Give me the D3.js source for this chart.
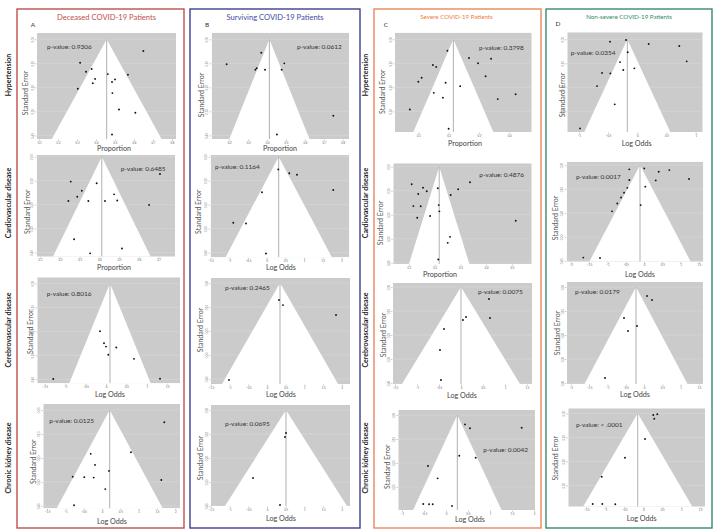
<!DOCTYPE html>
<html><head><meta charset="utf-8">
<script src="https://cdn.jsdelivr.net/npm/d3@7"></script>
<style>body{margin:0;background:#fff}text{font-family:Lato,"Open Sans",sans-serif}</style>
</head><body>
<svg id="c" width="718" height="532"></svg>
<script>
// ---- data ----
const groups = ["Deceased COVID-19 Patients","Surviving COVID-19 Patients","Severe COVID-19 Patients","Non-severe COVID-19 Patients"];
const groupLetters = ["A","B","C","D"];
const diseases = ["Hypertension","Cardiovascular disease","Cerebrovascular disease","Chronic kidney disease"];
const xLabels = ["Proportion","Proportion","Log Odds","Log Odds",
                 "Proportion","Log Odds","Log Odds","Log Odds",
                 "Proportion","Proportion","Log Odds","Log Odds",
                 "Log Odds","Log Odds","Log Odds","Log Odds"];
const pValues = ["0.9306","0.6485","0.8016","0.0125",
                 "0.0612","0.1164","0.2465","0.0695",
                 "0.3798","0.4876","0.0075","0.0042",
                 "0.0354","0.0017","0.0179","< .0001"];
const pooled = [0.456,0.412,0.098,0.210, 0.412,0.321,0.348,0.508, 0.2155,0.2175,0,0.257, -0.171,-0.109,-0.219,-0.147];
const funnelHalf = [0.289,0.247,0.998,1.448, 0.212,1.422,1.551,1.631, 0.132,0.1175,1.34,1.005, 0.736,1.385,1.407,1.439];
const xDomains = [[0.089,0.821],[0.083,0.782],[-1.684,1.814],[-1.604,2.131],
                  [0.107,0.833],[-1.497,2.209],[-1.497,2.219],[-1.497,2.219],
                  [0.023,0.474],[0.039,0.577],[-1.545,1.614],[-1.084,2.023],
                  [-1.199,1.120],[-2.112,1.620],[-2.104,1.612],[-1.974,1.624]];
const yDomains = [[-0.026,0.415],[-0.007,0.417],[-0.025,0.417],[-0.025,0.41],
                  [-0.0275,0.415],[-0.007,0.419],[-0.021,0.421],[-0.021,0.4],
                  [-0.0275,0.386],[-0.014,0.405],[-0.017,0.404],[-0.021,0.396],
                  [-0.029,0.386],[-0.014,0.403],[-0.021,0.404],[-0.021,0.389]];
const tP8 = [0.1,0.2,0.3,0.4,0.5,0.6,0.7,0.8];
const xTicks = [tP8,[0.1,0.2,0.3,0.4,0.5,0.6,0.7],[-1.5,-1,-0.5,0,0.5,1,1.5],[-1.5,-1,-0.5,0,0.5,1,1.5,2],
  [0.2,0.3,0.4,0.5,0.6,0.7,0.8],[-1.5,-1,-0.5,0,0.5,1,1.5,2],[-1.5,-1,-0.5,0,0.5,1,1.5,2],[-1.5,-1,-0.5,0,0.5,1,1.5,2],
  [0.1,0.2,0.3,0.4],[0.1,0.2,0.3,0.4,0.5],[-1.5,-1,-0.5,0,0.5,1,1.5],[-1,-0.5,0,0.5,1,1.5,2],
  [-1,-0.5,0,0.5,1],[-2,-1.5,-1,-0.5,0,0.5,1,1.5],[-2,-1.5,-1,-0.5,0,0.5,1,1.5],[-1.5,-1,-0.5,0,0.5,1,1.5]];
const yTickValues = [0,0.1,0.2,0.3,0.4];

// points: [estimate, standard error]
const ptsA1 = [[0.649,0.049],[0.316,0.098],[0.377,0.124],[0.347,0.135],[0.462,0.145],[0.568,0.148],[0.395,0.165],[0.5,0.167],[0.383,0.183],[0.484,0.178],[0.304,0.206],[0.486,0.224],[0.521,0.292],[0.607,0.306],[0.484,0.396]];
const ptsA2 = [[0.706,0.072],[0.255,0.104],[0.386,0.111],[0.311,0.142],[0.288,0.167],[0.474,0.157],[0.243,0.185],[0.344,0.185],[0.428,0.185],[0.490,0.183],[0.651,0.201],[0.272,0.344],[0.514,0.383],[0.353,0.403]];
const ptsA3 = [[-1.292,0.399],[1.324,0.398],[-0.147,0.2],[-0.049,0.25],[0,0.264],[0.252,0.268],[0.056,0.298],[0.686,0.315]];
const ptsA4 = [[1.702,0.051],[0.792,0.176],[-0.309,0.183],[-0.191,0.229],[0.191,0.254],[-0.801,0.278],[-0.484,0.280],[-0.227,0.282],[1.620,0.292],[0.090,0.330],[-0.765,0.397]];
const ptsB1 = [[0.186,0.104],[0.369,0.056],[0.345,0.120],[0.338,0.127],[0.389,0.127],[0.491,0.1],[0.477,0.127],[0.750,0.318],[0.452,0.396]];
const ptsB2 = [[0.310,0.053],[0.604,0.069],[0.810,0.075],[1.781,0.139],[-0.126,0.148],[-0.893,0.275],[-0.553,0.278],[-0.019,0.403]];
const ptsB3 = [[0.321,0.071],[0.428,0.092],[1.845,0.133],[-1.016,0.404]];
const ptsB4 = [[0.508,0.096],[0.481,0.1125],[-0.374,0.283],[0.348,0.396]];
const ptsC1 = [[0.196,0.0475],[0.267,0.078],[0.148,0.107],[0.159,0.115],[0.297,0.1],[0.340,0.081],[0.111,0.16],[0.1,0.177],[0.322,0.154],[0.190,0.181],[0.238,0.195],[0.151,0.223],[0.181,0.243],[0.421,0.229],[0.362,0.249],[0.072,0.292],[0.200,0.3725]];
const ptsC2 = [[0.1105,0.073],[0.337,0.065],[0.1545,0.0875],[0.212,0.09],[0.291,0.094],[0.169,0.1025],[0.136,0.114],[0.262,0.118],[0.117,0.164],[0.1455,0.165],[0.2155,0.16],[0.218,0.186],[0.182,0.205],[0.132,0.2125],[0.515,0.225],[0.2595,0.292],[0.2505,0.317],[0.214,0.386]];
const ptsC3 = [[0.636,0.05],[0.114,0.125],[0.045,0.1375],[0.659,0.129],[-0.386,0.175],[-0.477,0.2625],[-0.455,0.3875]];
const ptsC4 = [[0.432,0.039],[0.545,0.055],[1.720,0.053],[0.302,0.170],[0.675,0.178],[-0.409,0.2125],[-0.189,0.264],[-0.516,0.371],[-0.386,0.372],[-0.302,0.372],[0.136,0.379]];
const ptsD1 = [[-0.193,0.003],[-0.467,0.01],[0.195,0.0196],[0.719,0.028],[-0.164,0.054],[0.846,0.092],[-0.296,0.095],[-0.051,0.121],[-0.240,0.128],[-0.604,0.140],[-0.462,0.142],[-0.690,0.195],[-0.387,0.271],[-0.981,0.371]];
const ptsD2 = [[-0.402,0.018],[0.008,0.014],[0.402,0.028],[0.691,0.021],[-0.402,0.0625],[0.320,0.064],[1.230,0.058],[0.036,0.090],[-0.456,0.095],[-0.546,0.115],[-0.628,0.135],[-0.730,0.160],[-0.874,0.193],[-0.090,0.167],[-1.658,0.386],[-1.202,0.3875]];
const ptsD3 = [[0.082,0.0375],[0.219,0.054],[-0.546,0.129],[-0.191,0.1625],[-0.437,0.183],[-1.066,0.379]];
const ptsD4 = [[0.263,0.007],[0.368,0.004],[0.289,0.0225],[0.045,0.107],[-0.482,0.185],[-1.095,0.264],[-1.332,0.378],[-1.079,0.378],[-0.737,0.379]];
const points = [ptsA1,ptsA2,ptsA3,ptsA4, ptsB1,ptsB2,ptsB3,ptsB4, ptsC1,ptsC2,ptsC3,ptsC4, ptsD1,ptsD2,ptsD3,ptsD4];

// ---- layout (pixels) ----
const plotRects = [[37,33,176,139],[36.7,155,175,256.7],[37.3,277.3,180,383.3],[43.3,404,180,508.3],
 [211.7,32.7,349,139],[210.7,155,349.3,257.3],[211,278,350,384],[211,405,350,506],
 [395,32.7,531.7,132],[393.3,163.3,531.7,264],[393,283,532,384],[398.3,410,535,510],
 [567.3,32.3,702.7,132],[566.7,161.7,703.3,261.7],[567,282,703,384],[568.3,408.3,705,506.7]];
const seLabelPos = [[25,93],[26.7,211.7],[30,331.7],[33.3,461.7],[200.7,95],[198.3,211.7],[200,330],[200,458],
 [381.7,91.7],[380,223],[383,335],[386.7,466.7],[561.7,95],[555,218],[557,333],[555,458.3]];
const xLabelPos = [[114,148.3],[114,267],[110,394],[112,521.7],[280,148.3],[281,267.3],[281,394],[281,518],
 [465,143.5],[440,274.5],[462,395],[470,519],[636.7,143.3],[640,274],[635,394],[641.7,518.3]];
const pPos = [[47,46],[120.7,168.3],[46.7,293.3],[49.3,420],[297,46],[215,166.7],[225,287],[225,423],
 [479,47],[479.3,174.3],[478,291],[483.3,449.3],[570.7,52],[576,176.7],[575,291],[576,424]];
const boxes = [[17,9,184,528],[190,9,360,528],[374,9,541,528],[546,9,712,528]];
const boxColors = ["#c0504d","#3f3f8f","#ec8660","#3a8a68"];
const titleColors = ["#c0504d","#3f4a9e","#f07a3a","#2f8c64"];
const titleSizes = [7.6,7.6,6.2,6.2];
const titlePos = [[106.5,19.5],[275,19.5],[456.5,18.5],[629,18.5]];
const letterPos = [[33,27],[207,27],[386,27],[558,26]];
const rowLabelX = [8,null,365,null];
const rowLabelY = [75,203,330,458];

const svg = d3.select("#c");
const defs = svg.append("defs");

// boxes, titles
boxes.forEach((b,i)=>{
  svg.append("rect").attr("x",b[0]).attr("y",b[1]).attr("width",b[2]-b[0]).attr("height",b[3]-b[1])
    .attr("fill","none").attr("stroke",boxColors[i]).attr("stroke-width",1.4);
  svg.append("text").attr("x",titlePos[i][0]).attr("y",titlePos[i][1]).attr("text-anchor","middle")
    .attr("font-size",titleSizes[i]).attr("fill",titleColors[i]).text(groups[i]);
  svg.append("text").attr("x",letterPos[i][0]).attr("y",letterPos[i][1]).attr("text-anchor","middle")
    .attr("font-size",6.5).attr("fill","#333").text(groupLetters[i]);
  if(rowLabelX[i]!==null){
    diseases.forEach((d,r)=>{
      svg.append("text").attr("transform",`translate(${rowLabelX[i]},${rowLabelY[r]}) rotate(-90)`)
        .attr("text-anchor","middle").attr("dominant-baseline","central")
        .attr("font-size",7).attr("font-weight","bold").attr("fill","#222").text(d);
    });
  }
});

points.forEach((pts,i)=>{
  const [x0,y0,x1,y1] = plotRects[i];
  const x = d3.scaleLinear().domain(xDomains[i]).range([x0,x1]);
  const y = d3.scaleLinear().domain(yDomains[i]).range([y0,y1]);
  const g = svg.append("g");
  defs.append("clipPath").attr("id","cp"+i).append("rect").attr("x",x0).attr("y",y0).attr("width",x1-x0).attr("height",y1-y0);
  const inner = g.append("g").attr("clip-path",`url(#cp${i})`);
  inner.append("rect").attr("x",x0).attr("y",y0).attr("width",x1-x0).attr("height",y1-y0).attr("fill","#cbcbcb");
  const yt = yTickValues.filter(v=>v>=yDomains[i][0]&&v<=yDomains[i][1]);
  inner.selectAll("line.grid").data(yt).join("line").attr("class","grid")
    .attr("x1",x0).attr("x2",x1).attr("y1",d=>y(d)).attr("y2",d=>y(d))
    .attr("stroke","#d8d8d8").attr("stroke-width",0.6);
  const c = pooled[i], h = funnelHalf[i], seB = yDomains[i][1];
  inner.append("path").attr("d", d3.line()([[x(c),y(0)],[x(c-h),y(seB)],[x(c+h),y(seB)]])+"Z").attr("fill","#fff");
  inner.append("line").attr("x1",x(c)).attr("x2",x(c)).attr("y1",y(0)).attr("y2",y(seB))
    .attr("stroke","#a8a8a8").attr("stroke-width",0.9);
  inner.selectAll("circle").data(pts).join("circle").attr("cx",d=>x(d[0])).attr("cy",d=>y(d[1]))
    .attr("r",0.95).attr("fill","#111");
  // axes
  const ax = g.append("g").attr("transform",`translate(0,${y1+0.5})`)
    .call(d3.axisBottom(x).tickValues(xTicks[i]).tickSize(1.5).tickPadding(0.8).tickFormat(d3.format("")));
  const ay = g.append("g").attr("transform",`translate(${x0-0.5},0)`)
    .call(d3.axisLeft(y).tickValues(yt).tickSize(1.5).tickPadding(1).tickFormat(d3.format(".2f")));
  [ax,ay].forEach(a=>{
    a.select(".domain").remove();
    a.selectAll(".tick line").attr("stroke","#999").attr("stroke-width",0.5);
    a.selectAll(".tick text").attr("font-size",2.8).attr("fill","#666").attr("font-family","Lato,sans-serif");
  });
  ay.selectAll(".tick text").attr("transform","rotate(-90)").attr("text-anchor","middle").attr("x",0).attr("dy",0).attr("y",-3);
  // labels
  g.append("text").attr("transform",`translate(${seLabelPos[i][0]},${seLabelPos[i][1]}) rotate(-90)`)
    .attr("text-anchor","middle").attr("dominant-baseline","central").attr("font-size",7).attr("fill","#555").text("Standard Error");
  g.append("text").attr("x",xLabelPos[i][0]).attr("y",xLabelPos[i][1]).attr("text-anchor","middle")
    .attr("dominant-baseline","central").attr("font-size",7.2).attr("fill","#444").text(xLabels[i]);
  g.append("text").attr("x",pPos[i][0]).attr("y",pPos[i][1]).attr("dominant-baseline","central")
    .attr("font-size",6.5).attr("fill","#333").text("p-value: "+pValues[i]);
});
</script>
</body></html>
